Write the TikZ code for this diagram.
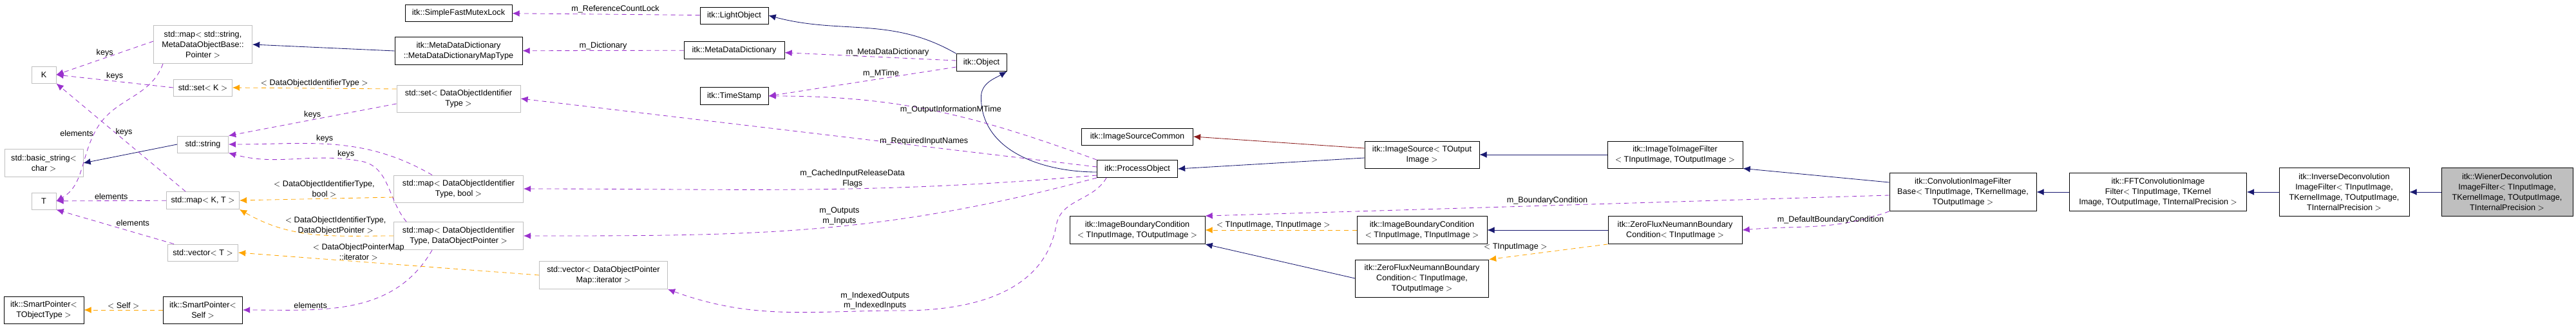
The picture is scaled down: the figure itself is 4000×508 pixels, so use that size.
\documentclass[tikz,border=0pt]{standalone}
\usepackage{fontspec}
\setmainfont{Liberation Sans}
\usepackage{xcolor}
\usetikzlibrary{arrows.meta,positioning,calc}
\definecolor{usecol}{HTML}{9A32CD}
\definecolor{tplcol}{HTML}{FFA500}
\definecolor{inhcol}{HTML}{191970}
\definecolor{prvcol}{HTML}{8B1A1A}
\definecolor{extcol}{HTML}{BFBFBF}
\tikzset{
  sz/.style 2 args={minimum width=#1*0.025cm, minimum height=#2*0.025cm},
  cls/.style={draw=black, fill=white, semithick, align=center, inner sep=1pt, font=\fontsize{9}{11.3}\selectfont},
  ext/.style={cls, draw=extcol},
  lbl/.style={font=\fontsize{9}{11.3}\selectfont, align=center, inner sep=1pt, text=black},
  use/.style={draw=usecol, semithick, dash pattern=on 5pt off 4pt, -{Latex[length=8pt,width=7pt]}},
  tpl/.style={use, draw=tplcol, -{Latex[length=8pt,width=7pt,fill=tplcol]}},
  inh/.style={draw=inhcol, semithick, -{Latex[length=8pt,width=7pt]}},
  prv/.style={inh, draw=prvcol}
}
\begin{document}
\begin{tikzpicture}[x=0.025cm, y=-0.025cm]
\useasboundingbox (0,0) rectangle (4000,508);

%CLASSES
  \node[cls, sz={166}{26}] (mutex) at (712,20) {itk::SimpleFastMutexLock};
  \node[ext, sz={153}{59}] (strmap) at (315,69) {std::map$<$ std::string,\\MetaDataObjectBase::\\Pointer $>$};
  \node[cls, sz={198}{43}] (dictmap) at (712,79) {itk::MetaDataDictionary\\::MetaDataDictionaryMapType};
  \node[ext, sz={38}{26}] (K) at (68,116) {K};
  \node[ext, sz={91}{26}] (setK) at (315,136) {std::set$<$ K $>$};
  \node[ext, sz={192}{42}] (setid) at (712,153) {std::set$<$ DataObjectIdentifier\\Type $>$};
  \node[ext, sz={79}{26}] (string) at (315,224) {std::string};
  \node[ext, sz={122}{43}] (basic) at (68,253) {std::basic\_string$<$\\char $>$};
  \node[ext, sz={38}{26}] (T) at (68,312) {T};
  \node[ext, sz={113}{27}] (mapKT) at (315,311) {std::map$<$ K, T $>$};
  \node[ext, sz={201}{42}] (mapbool) at (712,293) {std::map$<$ DataObjectIdentifier\\Type, bool $>$};
  \node[ext, sz={201}{43}] (mapptr) at (712,366) {std::map$<$ DataObjectIdentifier\\Type, DataObjectPointer $>$};
  \node[ext, sz={109}{26}] (vecT) at (315,392) {std::vector$<$ T $>$};
  \node[cls, sz={124}{42}] (spobj) at (68,481) {itk::SmartPointer$<$\\TObjectType $>$};
  \node[cls, sz={123}{42}] (spself) at (315,481) {itk::SmartPointer$<$\\Self $>$};
  \node[cls, sz={106}{26}] (light) at (1140,24) {itk::LightObject};
  \node[cls, sz={156}{27}] (dict) at (1140,78) {itk::MetaDataDictionary};
  \node[cls, sz={106}{27}] (stamp) at (1140,149) {itk::TimeStamp};
  \node[ext, sz={199}{43}] (veciter) at (937,427) {std::vector$<$ DataObjectPointer\\Map::iterator $>$};
  \node[cls, sz={78}{27}] (object) at (1524,97) {itk::Object};
  \node[cls, sz={173}{26}] (common) at (1766,212) {itk::ImageSourceCommon};
  \node[cls, sz={125}{27}] (process) at (1766,262) {itk::ProcessObject};
  \node[cls, sz={210}{43}] (bcio) at (1766,357) {itk::ImageBoundaryCondition\\$<$ TInputImage, TOutputImage $>$};
  \node[cls, sz={178}{42}] (source) at (2208,240) {itk::ImageSource$<$ TOutput\\Image $>$};
  \node[cls, sz={210}{42}] (i2i) at (2601,240) {itk::ImageToImageFilter\\$<$ TInputImage, TOutputImage $>$};
  \node[cls, sz={202}{43}] (bcii) at (2208,357) {itk::ImageBoundaryCondition\\$<$ TInputImage, TInputImage $>$};
  \node[cls, sz={208}{43}] (zfi) at (2601,357) {itk::ZeroFluxNeumannBoundary\\Condition$<$ TInputImage $>$};
  \node[cls, sz={207}{58}] (zfio) at (2208,432) {itk::ZeroFluxNeumannBoundary\\Condition$<$ TInputImage,\\TOutputImage $>$};
  \node[cls, sz={228}{59}] (convbase) at (3048,298) {itk::ConvolutionImageFilter\\Base$<$ TInputImage, TKernelImage,\\TOutputImage $>$};
  \node[cls, sz={275}{59}] (fft) at (3351,298) {itk::FFTConvolutionImage\\Filter$<$ TInputImage, TKernel\\Image, TOutputImage, TInternalPrecision $>$};
  \node[cls, sz={202}{75}] (inverse) at (3640,298) {itk::InverseDeconvolution\\ImageFilter$<$ TInputImage,\\TKernelImage, TOutputImage,\\TInternalPrecision $>$};
  \node[cls, sz={204}{75}, fill=extcol] (wiener) at (3893,298) {itk::WienerDeconvolution\\ImageFilter$<$ TInputImage,\\TKernelImage, TOutputImage,\\TInternalPrecision $>$};

%INHERITANCE
  \draw[inh] (wiener) -- (inverse);
  \draw[inh] (inverse) -- (fft);
  \draw[inh] (fft) -- (convbase);
  \draw[inh] (convbase.west) ++(0,-15) coordinate (cb1) (cb1) -- (i2i.south east);
  \draw[inh] (i2i) -- (source);
  \draw[inh] (source.west) ++(0,5) coordinate (s1) (s1) -- (process.east);
  \draw[prv] (source.west) ++(0,-10) coordinate (s2) (s2) -- (common.east);
  \draw[inh] (process.west) ++(0,5) coordinate (p1) (p1) to[out=180,in=-90] ($(object.south east)+(-40,40)$) to[out=90,in=-150] (object.south east);
  \draw[inh] (object.north west) to[out=150,in=-15] (light.east);
  \draw[inh] (dictmap.west) -- (strmap.east);
  \draw[inh] (string.west) -- (basic.east);
  \draw[inh] (zfi) -- (bcii);
  \draw[inh] (zfio.west) -- (bcio.south east);

%MEMBERS
  \draw[use] (light) -- node[lbl, above, pos=0.45] {m\_ReferenceCountLock} (mutex);
  \draw[use] (dict) -- node[lbl, above] {m\_Dictionary} (dictmap);
  \draw[use] (object.west) ++(0,-3) coordinate (o1) (o1) -- node[lbl, above, pos=0.4] {m\_MetaDataDictionary} (dict);
  \draw[use] (object.west) ++(0,7) coordinate (o2) (o2) -- node[lbl, above, pos=0.4] {m\_MTime} (stamp.east);
  \draw[use] (process.north west) to[out=160,in=0] node[lbl, above, pos=0.45] {m\_OutputInformationMTime} (stamp.east);
  \draw[use] (process.west) ++(0,-3) coordinate (p2) (p2) -- node[lbl, above, pos=0.3] {m\_RequiredInputNames} (setid.east);
  \draw[use] (process.west) ++(0,10) coordinate (p3) (p3) to[out=185,in=0] node[lbl, above, pos=0.42] {m\_CachedInputReleaseData\\Flags} (mapbool.east);
  \draw[use] (process.south west) to[out=195,in=0] node[lbl, above, pos=0.45] {m\_Outputs\\m\_Inputs} (mapptr.east);
  \draw[use] (process.south west) ++(15,0) coordinate (p4) (p4) to[out=-120,in=80] (1640,350) to[out=-100,in=0] (1400,482) to[out=180,in=-20] node[lbl, above, pos=0.1] {m\_IndexedOutputs\\m\_IndexedInputs} (veciter.south east);
  \draw[use] (convbase.west) ++(0,5) coordinate (cb2) (cb2) -- node[lbl, above, pos=0.5] {m\_BoundaryCondition} (bcio.north east);
  \draw[use] (convbase.south west) to[out=-160,in=5] node[lbl, above, pos=0.4] {m\_DefaultBoundaryCondition} (zfi.east);
  \draw[use] (strmap.west) ++(0,-5) coordinate (sm1) (sm1) -- node[lbl, above] {keys} (K.east);
  \draw[use] (setK.west) -- node[lbl, above] {keys} (K.east);
  \draw[use] (strmap.south west) ++(15,0) coordinate (sm2) (sm2) to[out=-110,in=60] (150,200) to[out=-120,in=30] node[lbl, pos=0.05, left] {elements} (T.east);
  \draw[use] (mapKT.north west) ++(30,0) coordinate (mk1) (mk1) -- node[lbl, right, pos=0.55] {keys} (K.south east);
  \draw[use] (mapKT) -- node[lbl, above] {elements} (T);
  \draw[use] (vecT.north west) ++(10,0) coordinate (vt1) (vt1) -- node[lbl, above right, pos=0.5] {elements} (T.south east);
  \draw[use] (setid.west) ++(0,8) coordinate (si1) (si1) -- node[lbl, above] {keys} (string.north east);
  \draw[use] (mapbool.north west) ++(60,0) coordinate (mb1) (mb1) to[out=150,in=0] node[lbl, above, pos=0.55] {keys} (string.east);
  \draw[use] (mapptr.north west) ++(20,0) coordinate (mp1) (mp1) to[out=130,in=-10] (560,250) to[out=170,in=-15] node[lbl, above, pos=0.1] {keys} (string.south east);
  \draw[use] (mapptr.south west) ++(60,0) coordinate (mp2) (mp2) to[out=-120,in=0] node[lbl, above, pos=0.7] {elements} (spself.east);

%TEMPLATES
  \draw[tpl] (setid.west) ++(0,-15) coordinate (si2) (si2) -- node[lbl, above] {$<$ DataObjectIdentifierType $>$} (setK.east);
  \draw[tpl] (mapbool.west) ++(0,13) coordinate (mb2) (mb2) -- node[lbl, above, pos=0.45] {$<$ DataObjectIdentifierType,\\bool $>$} (mapKT.east);
  \draw[tpl] (mapptr.west) to[out=180,in=-30] node[lbl, above, pos=0.35] {$<$ DataObjectIdentifierType,\\DataObjectPointer $>$} (mapKT.south east);
  \draw[tpl] (veciter.west) -- node[lbl, above, pos=0.6] {$<$ DataObjectPointerMap\\::iterator $>$} (vecT.east);
  \draw[tpl] (spself) -- node[lbl, above] {$<$ Self $>$} (spobj);
  \draw[tpl] (bcii) -- node[lbl, above, pos=0.55] {$<$ TInputImage, TInputImage $>$} (bcio);
  \draw[tpl] (zfi.south west) -- node[lbl, above left, pos=0.5] {$<$ TInputImage $>$} (zfio.north east);

\end{tikzpicture}
\end{document}
